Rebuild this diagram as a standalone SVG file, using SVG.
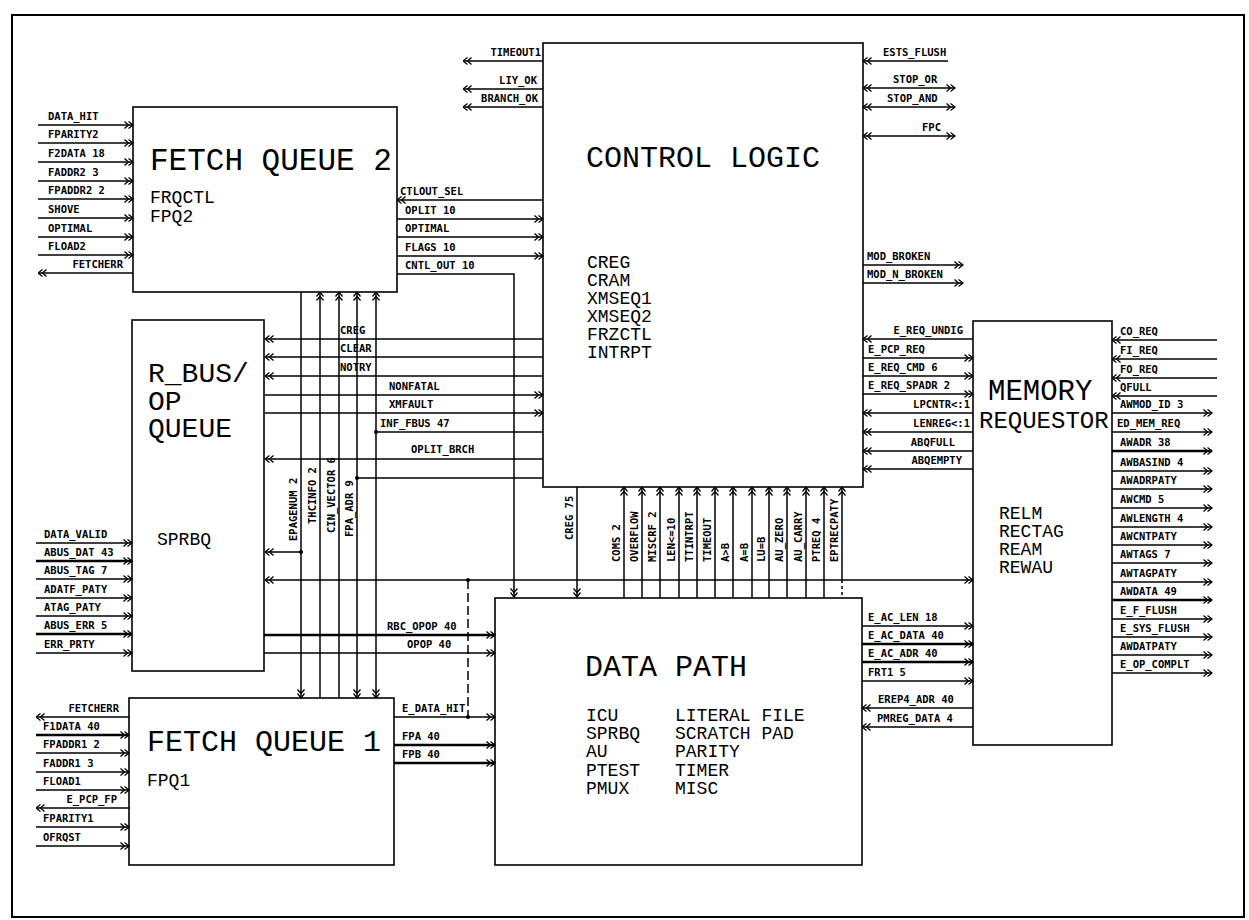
<svg xmlns="http://www.w3.org/2000/svg" width="1249" height="920" viewBox="0 0 1249 920">
<defs>
<style>
.box{fill:#fff;stroke:#000;stroke-width:1.6}
.c{stroke:#000;stroke-width:1.5;fill:none}
.bus{stroke-width:2.3}
.e{marker-end:url(#ah)}
.s{marker-start:url(#ah)}
.d{stroke-dasharray:9 4}
.l{font-family:"DejaVu Sans Mono","Liberation Mono",monospace;font-weight:bold;font-size:10.5px;fill:#000}
.r{text-anchor:end}
.t{font-family:"Liberation Mono","DejaVu Sans Mono",monospace;font-size:30px;fill:#000}
.u{font-family:"Liberation Mono","DejaVu Sans Mono",monospace;font-size:18px;fill:#000}
</style>
<marker id="ah" viewBox="0 0 10 8" refX="9.5" refY="4" markerWidth="10" markerHeight="8" markerUnits="userSpaceOnUse" orient="auto-start-reverse">
<path d="M1,0.5 L5,4 L1,7.5 M5,0.5 L9.5,4 L5,7.5" fill="none" stroke="#000" stroke-width="1.3"/>
</marker>
</defs>
<rect width="1249" height="920" fill="#fff"/>
<rect x="12" y="15" width="1232" height="902" fill="none" stroke="#000" stroke-width="2"/>

<g id="fq2">
<rect class="box" x="133" y="107" width="264" height="185"/>
<text class="t" x="150" y="170" style="font-size:31px">FETCH QUEUE 2</text>
<text class="u" x="150" y="203">FRQCTL</text>
<text class="u" x="150" y="222">FPQ2</text>
</g>
<g id="control_logic">
<rect class="box" x="543" y="43" width="320" height="444"/>
<text class="t" x="586" y="167">CONTROL LOGIC</text>
<text class="u" x="587" y="268">CREG</text>
<text class="u" x="587" y="286">CRAM</text>
<text class="u" x="587" y="304">XMSEQ1</text>
<text class="u" x="587" y="322">XMSEQ2</text>
<text class="u" x="587" y="340">FRZCTL</text>
<text class="u" x="587" y="358">INTRPT</text>
</g>
<g id="rbus">
<rect class="box" x="132" y="320" width="132" height="351"/>
<text class="t" x="148" y="382" style="font-size:28px">R_BUS/</text>
<text class="t" x="148" y="410" style="font-size:28px">OP</text>
<text class="t" x="148" y="437" style="font-size:28px">QUEUE</text>
<text class="u" x="157" y="545">SPRBQ</text>
</g>
<g id="fq1">
<rect class="box" x="129" y="698" width="265" height="167"/>
<text class="t" x="147" y="751">FETCH QUEUE 1</text>
<text class="u" x="147" y="786">FPQ1</text>
</g>
<g id="data_path">
<rect class="box" x="495" y="598" width="367" height="267"/>
<text class="t" x="585" y="676">DATA PATH</text>
<text class="u" x="586" y="721">ICU</text>
<text class="u" x="586" y="739">SPRBQ</text>
<text class="u" x="586" y="757">AU</text>
<text class="u" x="586" y="776">PTEST</text>
<text class="u" x="586" y="794">PMUX</text>
<text class="u" x="675" y="721">LITERAL FILE</text>
<text class="u" x="675" y="739">SCRATCH PAD</text>
<text class="u" x="675" y="757">PARITY</text>
<text class="u" x="675" y="776">TIMER</text>
<text class="u" x="675" y="794">MISC</text>
</g>
<g id="memory_requestor">
<rect class="box" x="973" y="321" width="139" height="424"/>
<text class="t" x="988" y="400" style="font-size:29px">MEMORY</text>
<text class="t" x="979" y="428" style="font-size:24px">REQUESTOR</text>
<text class="u" x="999" y="519">RELM</text>
<text class="u" x="999" y="537">RECTAG</text>
<text class="u" x="999" y="555">REAM</text>
<text class="u" x="999" y="573">REWAU</text>
</g>

<g id="connectors">
<!-- FQ2 inputs -->
<line class="c e" x1="38" y1="125" x2="133" y2="125"/><text class="l" x="48" y="120">DATA_HIT</text>
<line class="c e" x1="38" y1="143" x2="133" y2="143"/><text class="l" x="48" y="138">FPARITY2</text>
<line class="c e" x1="38" y1="162" x2="133" y2="162"/><text class="l" x="48" y="157">F2DATA 18</text>
<line class="c e" x1="38" y1="181" x2="133" y2="181"/><text class="l" x="48" y="176">FADDR2 3</text>
<line class="c e" x1="38" y1="199" x2="133" y2="199"/><text class="l" x="48" y="194">FPADDR2 2</text>
<line class="c e" x1="38" y1="218" x2="133" y2="218"/><text class="l" x="48" y="213">SHOVE</text>
<line class="c e" x1="38" y1="237" x2="133" y2="237"/><text class="l" x="48" y="232">OPTIMAL</text>
<line class="c e" x1="38" y1="255" x2="133" y2="255"/><text class="l" x="48" y="250">FLOAD2</text>
<line class="c e" x1="133" y1="273" x2="38" y2="273"/><text class="l r" x="123" y="268">FETCHERR</text>

<!-- CL top left -->
<line class="c e" x1="543" y1="61" x2="463" y2="61"/><text class="l r" x="541" y="56">TIMEOUT1</text>
<line class="c e" x1="543" y1="89" x2="463" y2="89"/><text class="l r" x="537" y="84">LIY_OK</text>
<line class="c e" x1="543" y1="107" x2="463" y2="107"/><text class="l r" x="538" y="102">BRANCH_OK</text>
<!-- CL top right -->
<line class="c e" x1="948" y1="61" x2="863" y2="61"/><text class="l" x="883" y="56">ESTS_FLUSH</text>
<line class="c s e" x1="863" y1="88" x2="955" y2="88"/><text class="l" x="893" y="83">STOP_OR</text>
<line class="c s e" x1="863" y1="107" x2="955" y2="107"/><text class="l" x="887" y="102">STOP_AND</text>
<line class="c s e" x1="863" y1="136" x2="955" y2="136"/><text class="l" x="922" y="131">FPC</text>
<line class="c e" x1="863" y1="265" x2="963" y2="265"/><text class="l" x="867" y="260">MOD_BROKEN</text>
<line class="c e" x1="863" y1="283" x2="963" y2="283"/><text class="l" x="867" y="278">MOD_N_BROKEN</text>

<!-- FQ2 <-> CL -->
<line class="c e" x1="543" y1="200" x2="397" y2="200"/><text class="l" x="400" y="195">CTLOUT_SEL</text>
<line class="c e" x1="397" y1="219" x2="543" y2="219"/><text class="l" x="405" y="214">OPLIT 10</text>
<line class="c e" x1="397" y1="237" x2="543" y2="237"/><text class="l" x="405" y="232">OPTIMAL</text>
<line class="c e" x1="397" y1="256" x2="543" y2="256"/><text class="l" x="405" y="251">FLAGS 10</text>
<polyline class="c e" points="397,274 514,274 514,597"/><text class="l" x="405" y="269">CNTL_OUT 10</text>

<!-- CL <-> R_BUS -->
<line class="c e" x1="543" y1="339" x2="265" y2="339"/><text class="l" x="340" y="334">CREG</text>
<line class="c e" x1="543" y1="357" x2="265" y2="357"/><text class="l" x="340" y="352">CLEAR</text>
<line class="c e" x1="543" y1="376" x2="265" y2="376"/><text class="l" x="340" y="371">NOTRY</text>
<line class="c e" x1="265" y1="395" x2="543" y2="395"/><text class="l" x="389" y="390">NONFATAL</text>
<line class="c e" x1="265" y1="413" x2="543" y2="413"/><text class="l" x="389" y="408">XMFAULT</text>
<line class="c" x1="543" y1="432" x2="376" y2="432"/><text class="l" x="380" y="427">INF_FBUS 47</text>
<line class="c e" x1="543" y1="459" x2="265" y2="459"/><text class="l" x="411" y="453">OPLIT_BRCH</text>
<line class="c" x1="543" y1="478" x2="357" y2="478"/>
<line class="c e" x1="301" y1="552" x2="265" y2="552"/>
<line class="c e" x1="468" y1="580" x2="265" y2="580"/>
<line class="c e" x1="468" y1="580" x2="973" y2="580"/>
<line class="c d" x1="468" y1="580" x2="468" y2="717"/>

<!-- vertical bus FQ2 / FQ1 -->
<line class="c e" x1="301" y1="292" x2="301" y2="698"/>
<line class="c e" x1="320" y1="698" x2="320" y2="292"/>
<line class="c e" x1="339" y1="698" x2="339" y2="292"/>
<line class="c e" x1="357" y1="478" x2="357" y2="292"/>
<line class="c e" x1="357" y1="478" x2="357" y2="698"/>
<line class="c e" x1="376" y1="432" x2="376" y2="292"/>
<line class="c e" x1="376" y1="432" x2="376" y2="698"/>
<circle cx="301" cy="552" r="2"/><circle cx="357" cy="478" r="2"/><circle cx="376" cy="432" r="2"/>
<circle cx="468" cy="580" r="2"/><circle cx="468" cy="717" r="2"/>
<text class="l" transform="translate(297,541) rotate(-90)">EPAGENUM 2</text>
<text class="l" transform="translate(316,524) rotate(-90)">THCINFO 2</text>
<text class="l" transform="translate(335,533) rotate(-90)">CIN_VECTOR 6</text>
<text class="l" transform="translate(353,537) rotate(-90)">FPA_ADR 9</text>

<!-- CL <-> DP verticals -->
<line class="c e" x1="577" y1="487" x2="577" y2="597"/><text class="l" transform="translate(573,540) rotate(-90)">CREG 75</text>
<line class="c e" x1="624" y1="598" x2="624" y2="487"/><text class="l" transform="translate(620,562) rotate(-90)">COMS 2</text>
<line class="c e" x1="642" y1="598" x2="642" y2="487"/><text class="l" transform="translate(638,562) rotate(-90)">OVERFLOW</text>
<line class="c e" x1="660" y1="598" x2="660" y2="487"/><text class="l" transform="translate(656,562) rotate(-90)">MISCRF 2</text>
<line class="c e" x1="679" y1="598" x2="679" y2="487"/><text class="l" transform="translate(675,562) rotate(-90)">LEN&lt;=10</text>
<line class="c e" x1="697" y1="598" x2="697" y2="487"/><text class="l" transform="translate(693,562) rotate(-90)">TTINTRPT</text>
<line class="c e" x1="715" y1="598" x2="715" y2="487"/><text class="l" transform="translate(711,562) rotate(-90)">TIMEOUT</text>
<line class="c e" x1="733" y1="598" x2="733" y2="487"/><text class="l" transform="translate(729,562) rotate(-90)">A&gt;B</text>
<line class="c e" x1="752" y1="598" x2="752" y2="487"/><text class="l" transform="translate(748,562) rotate(-90)">A=B</text>
<line class="c e" x1="769" y1="598" x2="769" y2="487"/><text class="l" transform="translate(765,562) rotate(-90)">LU=B</text>
<line class="c e" x1="787" y1="598" x2="787" y2="487"/><text class="l" transform="translate(783,562) rotate(-90)">AU_ZERO</text>
<line class="c e" x1="806" y1="598" x2="806" y2="487"/><text class="l" transform="translate(802,562) rotate(-90)">AU_CARRY</text>
<line class="c e" x1="824" y1="598" x2="824" y2="487"/><text class="l" transform="translate(820,562) rotate(-90)">PTREQ 4</text>
<line class="c e" x1="842" y1="580" x2="842" y2="487"/><line class="c" x1="842" y1="580" x2="842" y2="598" stroke-dasharray="3 3"/><text class="l" transform="translate(838,562) rotate(-90)">EPTRECPATY</text>

<!-- CL <-> MR -->
<line class="c e" x1="973" y1="339" x2="863" y2="339"/><text class="l r" x="963" y="334">E_REQ_UNDIG</text>
<line class="c e" x1="863" y1="358" x2="973" y2="358"/><text class="l" x="868" y="353">E_PCP_REQ</text>
<line class="c e" x1="863" y1="376" x2="973" y2="376"/><text class="l" x="868" y="371">E_REQ_CMD 6</text>
<line class="c e" x1="863" y1="394" x2="973" y2="394"/><text class="l" x="868" y="389">E_REQ_SPADR 2</text>
<line class="c e" x1="973" y1="413" x2="863" y2="413"/><text class="l r" x="970" y="408">LPCNTR&lt;:1</text>
<line class="c e" x1="973" y1="432" x2="863" y2="432"/><text class="l r" x="970" y="427">LENREG&lt;:1</text>
<line class="c e" x1="973" y1="451" x2="863" y2="451"/><text class="l r" x="955" y="446">ABQFULL</text>
<line class="c e" x1="973" y1="469" x2="863" y2="469"/><text class="l r" x="962" y="464">ABQEMPTY</text>

<!-- MR right -->
<line class="c e" x1="1217" y1="340" x2="1112" y2="340"/><text class="l" x="1120" y="335">CO_REQ</text>
<line class="c e" x1="1217" y1="359" x2="1112" y2="359"/><text class="l" x="1120" y="354">FI_REQ</text>
<line class="c e" x1="1217" y1="378" x2="1112" y2="378"/><text class="l" x="1120" y="373">FO_REQ</text>
<line class="c e" x1="1217" y1="396" x2="1112" y2="396"/><text class="l" x="1120" y="391">QFULL</text>
<line class="c e" x1="1112" y1="413" x2="1212" y2="413"/><text class="l" x="1120" y="408">AWMOD_ID 3</text>
<line class="c e" x1="1112" y1="432" x2="1212" y2="432"/><text class="l" x="1117" y="427">ED_MEM_REQ</text>
<line class="c e bus" x1="1112" y1="451" x2="1212" y2="451"/><text class="l" x="1120" y="446">AWADR 38</text>
<line class="c e" x1="1112" y1="471" x2="1212" y2="471"/><text class="l" x="1120" y="466">AWBASIND 4</text>
<line class="c e" x1="1112" y1="489" x2="1212" y2="489"/><text class="l" x="1120" y="484">AWADRPATY</text>
<line class="c e" x1="1112" y1="508" x2="1212" y2="508"/><text class="l" x="1120" y="503">AWCMD 5</text>
<line class="c e" x1="1112" y1="527" x2="1212" y2="527"/><text class="l" x="1120" y="522">AWLENGTH 4</text>
<line class="c e" x1="1112" y1="545" x2="1212" y2="545"/><text class="l" x="1120" y="540">AWCNTPATY</text>
<line class="c e" x1="1112" y1="563" x2="1212" y2="563"/><text class="l" x="1120" y="558">AWTAGS 7</text>
<line class="c e" x1="1112" y1="582" x2="1212" y2="582"/><text class="l" x="1120" y="577">AWTAGPATY</text>
<line class="c e bus" x1="1112" y1="600" x2="1212" y2="600"/><text class="l" x="1120" y="595">AWDATA 49</text>
<line class="c e" x1="1112" y1="619" x2="1212" y2="619"/><text class="l" x="1120" y="614">E_F_FLUSH</text>
<line class="c e" x1="1112" y1="637" x2="1212" y2="637"/><text class="l" x="1120" y="632">E_SYS_FLUSH</text>
<line class="c e" x1="1112" y1="655" x2="1212" y2="655"/><text class="l" x="1120" y="650">AWDATPATY</text>
<line class="c e" x1="1112" y1="673" x2="1212" y2="673"/><text class="l" x="1120" y="668">E_OP_COMPLT</text>

<!-- DP <-> MR -->
<line class="c e" x1="862" y1="626" x2="973" y2="626"/><text class="l" x="868" y="621">E_AC_LEN 18</text>
<line class="c e bus" x1="862" y1="644" x2="973" y2="644"/><text class="l" x="868" y="639">E_AC_DATA 40</text>
<line class="c e bus" x1="862" y1="662" x2="973" y2="662"/><text class="l" x="868" y="657">E_AC_ADR 40</text>
<line class="c e" x1="862" y1="681" x2="973" y2="681"/><text class="l" x="868" y="676">FRT1 5</text>
<line class="c e" x1="973" y1="708" x2="862" y2="708"/><text class="l" x="878" y="703">EREP4_ADR 40</text>
<line class="c e" x1="973" y1="727" x2="862" y2="727"/><text class="l" x="877" y="722">PMREG_DATA 4</text>

<!-- R_BUS inputs -->
<line class="c e" x1="36" y1="543" x2="132" y2="543"/><text class="l" x="44" y="538">DATA_VALID</text>
<line class="c e bus" x1="36" y1="561" x2="132" y2="561"/><text class="l" x="44" y="556">ABUS_DAT 43</text>
<line class="c e" x1="36" y1="579" x2="132" y2="579"/><text class="l" x="44" y="574">ABUS_TAG 7</text>
<line class="c e" x1="36" y1="598" x2="132" y2="598"/><text class="l" x="44" y="593">ADATF_PATY</text>
<line class="c e" x1="36" y1="616" x2="132" y2="616"/><text class="l" x="44" y="611">ATAG_PATY</text>
<line class="c e bus" x1="36" y1="634" x2="132" y2="634"/><text class="l" x="44" y="629">ABUS_ERR 5</text>
<line class="c e" x1="36" y1="653" x2="132" y2="653"/><text class="l" x="44" y="648">ERR_PRTY</text>
<!-- R_BUS -> DP -->
<line class="c e bus" x1="264" y1="635" x2="495" y2="635"/><text class="l" x="387" y="630">RBC_OPOP 40</text>
<line class="c e" x1="264" y1="653" x2="495" y2="653"/><text class="l" x="407" y="648">OPOP 40</text>

<!-- FQ1 left -->
<line class="c e" x1="129" y1="717" x2="36" y2="717"/><text class="l r" x="119" y="712">FETCHERR</text>
<line class="c e bus" x1="36" y1="735" x2="129" y2="735"/><text class="l" x="43" y="730">F1DATA 40</text>
<line class="c e" x1="36" y1="753" x2="129" y2="753"/><text class="l" x="43" y="748">FPADDR1 2</text>
<line class="c e" x1="36" y1="772" x2="129" y2="772"/><text class="l" x="43" y="767">FADDR1 3</text>
<line class="c e" x1="36" y1="790" x2="129" y2="790"/><text class="l" x="43" y="785">FLOAD1</text>
<line class="c e" x1="129" y1="808" x2="36" y2="808"/><text class="l r" x="117" y="803">E_PCP_FP</text>
<line class="c e" x1="36" y1="827" x2="129" y2="827"/><text class="l" x="43" y="822">FPARITY1</text>
<line class="c e" x1="36" y1="846" x2="129" y2="846"/><text class="l" x="43" y="841">OFRQST</text>
<!-- FQ1 -> DP -->
<line class="c e" x1="394" y1="717" x2="495" y2="717"/><text class="l" x="402" y="712">E_DATA_HIT</text>
<line class="c e bus" x1="394" y1="745" x2="495" y2="745"/><text class="l" x="402" y="740">FPA 40</text>
<line class="c e bus" x1="394" y1="763" x2="495" y2="763"/><text class="l" x="402" y="758">FPB 40</text>
</g>
</svg>
